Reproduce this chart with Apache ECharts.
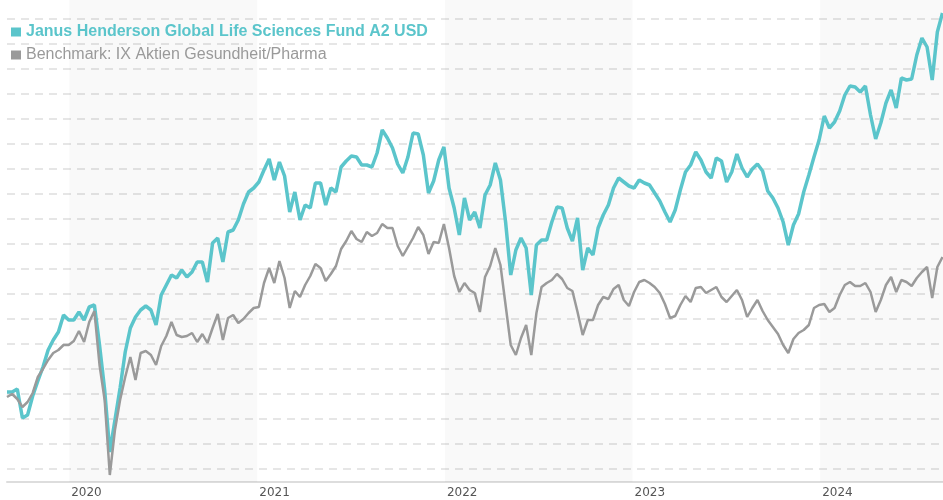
<!DOCTYPE html>
<html>
<head>
<meta charset="utf-8">
<script src="https://cdn.jsdelivr.net/npm/echarts@6/dist/echarts.min.js"></script>
<style>
    html, body { margin: 0; padding: 0; background: #fff; }
    #chart { width: 943px; height: 500px; }
</style>
</head>
<body>
<div id="chart"></div>
<script type="text/javascript">
    // names
    var fundName = 'Janus Henderson Global Life Sciences Fund A2 USD';
    var benchName = 'Benchmark: IX Aktien Gesundheit/Pharma';

    // one point every 10 days, starting here
    var startDate = '2019-09-02';
    var endDate = '2024-08-27';
    var stepDays = 10;

    // shaded years
    var bandStarts = ['2020-01-01', '2022-01-01', '2024-01-01'];
    var bandEnds = ['2021-01-01', '2023-01-01', '2024-08-27'];

    // indexed performance
    var fundValues = [
        100.8, 100.8, 102.0, 90.4, 91.6, 99.2, 105.2, 110.8, 117.6, 121.6,
        124.8, 131.6, 129.6, 129.6, 132.8, 129.6, 134.8, 135.6, 119.6, 101.6,
        76.8, 89.6, 102.4, 116.8, 126.4, 130.8, 133.6, 135.2, 133.6, 127.6,
        139.6, 143.6, 147.6, 146.4, 149.6, 146.8, 148.8, 152.8, 152.8, 144.8,
        160.4, 162.4, 152.8, 164.8, 165.6, 169.6, 176.0, 180.8, 182.4, 184.8,
        189.6, 194.0, 185.6, 192.8, 187.2, 172.8, 180.8, 169.6, 175.6, 174.4,
        184.4, 184.4, 175.6, 182.4, 180.8, 190.8, 193.2, 195.2, 194.8, 191.6,
        191.6, 190.8, 196.4, 205.6, 202.4, 198.4, 192.0, 188.4, 194.8, 204.4,
        204.0, 195.6, 180.4, 185.2, 193.6, 198.8, 182.4, 174.4, 163.6, 178.4,
        169.6, 172.8, 166.4, 179.6, 183.6, 192.4, 185.6, 168.8, 147.6, 157.6,
        162.4, 158.4, 139.6, 159.6, 161.6, 161.6, 168.8, 174.8, 174.4, 166.4,
        161.2, 170.4, 149.6, 158.4, 155.6, 166.4, 171.6, 175.6, 182.4, 186.4,
        184.8, 183.2, 182.4, 185.6, 184.4, 183.6, 180.4, 177.2, 172.8, 168.8,
        173.6, 181.6, 188.8, 191.6, 196.8, 193.6, 188.8, 186.4, 194.4, 193.2,
        184.8, 188.8, 196.0, 190.4, 186.8, 190.0, 192.0, 189.2, 181.2, 178.4,
        174.4, 168.8, 159.6, 167.6, 172.0, 180.8, 187.6, 194.8, 201.6, 211.2,
        206.4, 208.8, 213.2, 219.6, 223.2, 222.8, 220.8, 223.2, 211.6, 202.0,
        208.4, 216.4, 221.6, 214.4, 226.4, 225.6, 226.0, 235.6, 242.4, 238.8,
        225.6, 244.8, 252.4
    ];
    var benchValues = [
        98.8, 100.0, 98.0, 94.8, 96.8, 100.4, 106.8, 110.0, 113.6, 116.4,
        117.6, 119.6, 119.6, 121.2, 125.2, 120.8, 128.8, 133.2, 111.6, 97.6,
        67.6, 85.6, 97.6, 106.8, 114.8, 105.6, 116.4, 117.2, 115.6, 111.6,
        119.2, 123.2, 128.8, 123.6, 122.8, 123.2, 124.4, 120.8, 124.0, 120.4,
        126.4, 132.0, 121.6, 130.4, 131.6, 128.4, 130.0, 132.4, 134.4, 134.8,
        144.4, 150.4, 144.4, 153.2, 146.4, 134.4, 141.2, 138.8, 143.6, 147.2,
        152.0, 150.4, 145.2, 148.0, 151.2, 158.0, 161.2, 165.2, 162.0, 160.8,
        164.8, 163.2, 164.4, 168.0, 166.4, 166.4, 159.2, 155.2, 158.8, 162.4,
        166.8, 163.6, 156.0, 160.8, 160.4, 168.0, 158.4, 147.2, 140.8, 144.4,
        141.6, 140.4, 132.8, 146.8, 151.2, 158.4, 151.6, 135.6, 119.6, 115.6,
        122.4, 127.6, 115.6, 132.4, 142.8, 144.4, 145.6, 148.0, 146.0, 142.4,
        141.2, 132.8, 123.6, 129.6, 129.6, 135.6, 138.8, 138.0, 142.0, 143.6,
        137.6, 135.2, 140.8, 144.8, 145.6, 144.4, 142.8, 140.4, 136.0, 130.4,
        131.2, 135.6, 139.2, 136.8, 142.4, 142.8, 140.4, 141.6, 142.8, 138.8,
        136.8, 139.2, 141.6, 137.6, 130.8, 134.4, 137.6, 133.2, 129.6, 126.8,
        124.0, 119.6, 116.4, 122.0, 124.4, 125.6, 127.6, 134.4, 135.6, 136.0,
        132.8, 134.4, 139.6, 143.6, 144.8, 143.2, 143.2, 144.4, 140.8, 132.8,
        137.6, 143.6, 146.8, 140.8, 145.6, 144.8, 143.2, 146.4, 148.8, 150.8,
        138.4, 150.8, 154.8
    ];

    var myChart = echarts.init(document.getElementById('chart'));

    var t0 = new Date(startDate + 'T00:00:00Z').getTime();
    function pairs(values) {
        var out = [];
        for (var i = 0; i < values.length; i++) {
            out.push([t0 + i * stepDays * 86400000, values[i]]);
        }
        return out;
    }

    var bands = [];
    for (var b = 0; b < bandStarts.length; b++) {
        bands.push([{ xAxis: bandStarts[b] }, { xAxis: bandEnds[b] }]);
    }

    var teal = '#5bc5cb';
    var grey = '#9a9a9a';

    var option = {
        backgroundColor: '#fff',
        animation: false,
        textStyle: { fontFamily: 'Liberation Sans, Arial, sans-serif' },
        legend: {
            orient: 'vertical',
            left: 11,
            top: 24,
            padding: 0,
            icon: 'rect',
            itemWidth: 10,
            itemHeight: 9,
            itemGap: 7,
            selectedMode: false,
            textStyle: { fontSize: 16, fontFamily: 'Liberation Sans, Arial, sans-serif' },
            data: [
                { name: fundName, textStyle: { color: teal, fontWeight: 'bold' } },
                { name: benchName, textStyle: { color: grey } }
            ]
        },
        grid: [
            // data
            { left: 7, right: 0, top: 0, bottom: 18 },
            // only for the dashed lines
            { left: 7, right: 0, top: 19, bottom: 31 }
        ],
        xAxis: [{
            type: 'time',
            gridIndex: 0,
            min: startDate,
            max: endDate,
            minInterval: 365 * 24 * 3600 * 1000,
            splitLine: { show: false },
            axisTick: { show: false },
            axisLine: { lineStyle: { color: '#dddddd', width: 2 } },
            axisLabel: {
                showMinLabel: false,
                showMaxLabel: false,
                align: 'left',
                padding: [0, 0, 0, 2],
                margin: 5,
                color: '#555',
                fontSize: 12,
                fontFamily: 'DejaVu Sans',
                formatter: function (v) { return String(new Date(v).getFullYear()); }
            }
        }, {
            type: 'value',
            gridIndex: 1,
            min: 0,
            max: 1,
            show: false
        }],
        yAxis: [{
            type: 'value',
            gridIndex: 0,
            min: 64.8,
            max: 257.6,
            show: false,
            splitLine: { show: false }
        }, {
            type: 'value',
            gridIndex: 1,
            min: 70,
            max: 250,
            interval: 10,
            axisLine: { show: false },
            axisTick: { show: false },
            axisLabel: { show: false },
            splitLine: {
                show: true,
                lineStyle: { color: '#dedede', width: 1.5, type: [8, 6] }
            }
        }],
        series: [{
            name: fundName,
            type: 'line',
            xAxisIndex: 0,
            yAxisIndex: 0,
            showSymbol: false,
            color: teal,
            lineStyle: { color: teal, width: 3.5 },
            data: pairs(fundValues),
            markArea: {
                silent: true,
                itemStyle: { color: 'rgba(0,0,0,0.025)' },
                data: bands
            },
            z: 2
        }, {
            name: benchName,
            type: 'line',
            xAxisIndex: 0,
            yAxisIndex: 0,
            showSymbol: false,
            color: grey,
            lineStyle: { color: grey, width: 2.5 },
            data: pairs(benchValues),
            z: 3
        }]
    };
    myChart.setOption(option);
</script>
</body>
</html>
